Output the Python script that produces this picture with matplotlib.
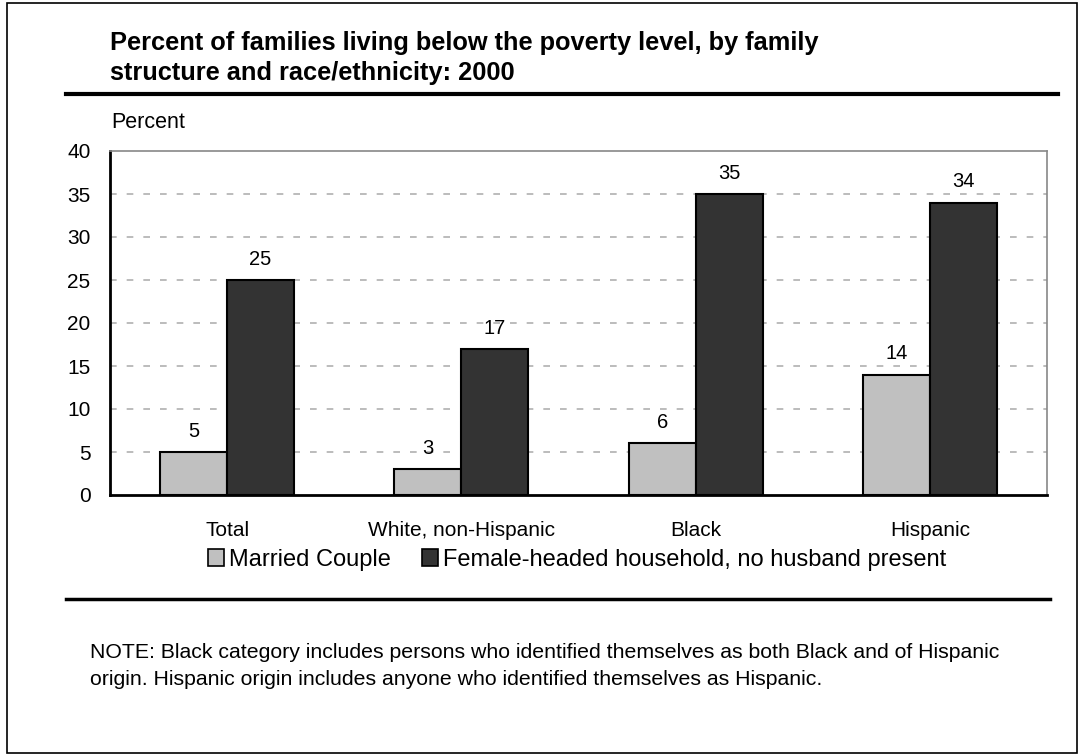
import matplotlib
matplotlib.use("Agg")
import matplotlib.pyplot as plt
import numpy as np
from matplotlib.lines import Line2D
from matplotlib.patches import Rectangle

categories = ["Total", "White, non-Hispanic", "Black", "Hispanic"]
married = [5, 3, 6, 14]
female = [25, 17, 35, 34]
series_names = ["Married Couple", "Female-headed household, no husband present"]
yticks = [0, 5, 10, 15, 20, 25, 30, 35, 40]

plt.rcParams['font.family'] = ['Liberation Sans', 'DejaVu Sans']

W, H = 1079, 755
fig = plt.figure(figsize=(W / 100, H / 100), dpi=100)

def fx(px):
    return px / W

def fy(py):
    return 1 - py / H

# outer border
fig.add_artist(Rectangle((fx(7), fy(753)), fx(1077 - 7), (753 - 3) / H, transform=fig.transFigure,
                         fill=False, edgecolor="black", linewidth=1.2))

ax = fig.add_axes([fx(110), fy(495), fx(1047 - 110), (495 - 151) / H])
x = np.arange(len(categories))
bw = 0.286
b1 = ax.bar(x - bw / 2, married, bw, color="#c0c0c0", edgecolor="black", linewidth=1.5,
            label=series_names[0], zorder=3)
b2 = ax.bar(x + bw / 2, female, bw, color="#333333", edgecolor="black", linewidth=1.5,
            label=series_names[1], zorder=3)
for bars, vals in ((b1, married), (b2, female)):
    for r, v in zip(bars, vals):
        ax.annotate(f"{v}", (r.get_x() + r.get_width() / 2, v), xytext=(0, 8),
                    textcoords="offset points", ha="center", va="bottom", fontsize=14.5)

ax.set_xlim(-0.5, len(categories) - 0.5)
ax.set_ylim(0, 40)
ax.set_yticks(yticks)
ax.set_xticks(x)
ax.set_xticklabels(categories, fontsize=15)
ax.tick_params(axis="y", labelsize=15, length=0, pad=14)
ax.tick_params(axis="x", length=0, pad=19)
for v in yticks[1:-1]:
    ax.axhline(v, color="#b0b0b0", linestyle=(0, (4, 6)), linewidth=1.2, zorder=1)
ax.spines["left"].set_linewidth(2)
ax.spines["bottom"].set_linewidth(2)
ax.spines["top"].set_color("#888888")
ax.spines["right"].set_color("#888888")
ax.spines["top"].set_linewidth(1.2)
ax.spines["right"].set_linewidth(1.2)

fig.text(fx(111), fy(123), "Percent", fontsize=15.5, va="center", ha="left")

fig.text(fx(110), fy(58), "Percent of families living below the poverty level, by family\nstructure and race/ethnicity: 2000",
         fontsize=18.3, fontweight="bold", va="center", ha="left", linespacing=1.3)
fig.add_artist(Line2D([fx(66), fx(1058)], [fy(94), fy(94)], color="black", linewidth=3))
fig.add_artist(Line2D([fx(66), fx(1050)], [fy(599), fy(599)], color="black", linewidth=2.5))

handles = [Rectangle((0, 0), 1, 1, facecolor="#c0c0c0", edgecolor="black", linewidth=1.2),
           Rectangle((0, 0), 1, 1, facecolor="#333333", edgecolor="black", linewidth=1.2)]
fig.legend(handles, series_names, loc="center", bbox_to_anchor=(fx(577), fy(560)), ncol=2,
           frameon=False, fontsize=17, handlelength=0.7, handleheight=0.7, handletextpad=0.2,
           columnspacing=1.3)

fig.text(fx(90), fy(666), "NOTE: Black category includes persons who identified themselves as both Black and of Hispanic\norigin. Hispanic origin includes anyone who identified themselves as Hispanic.",
         fontsize=15.3, va="center", ha="left", linespacing=1.5)

fig.savefig("out.png", dpi=100)
